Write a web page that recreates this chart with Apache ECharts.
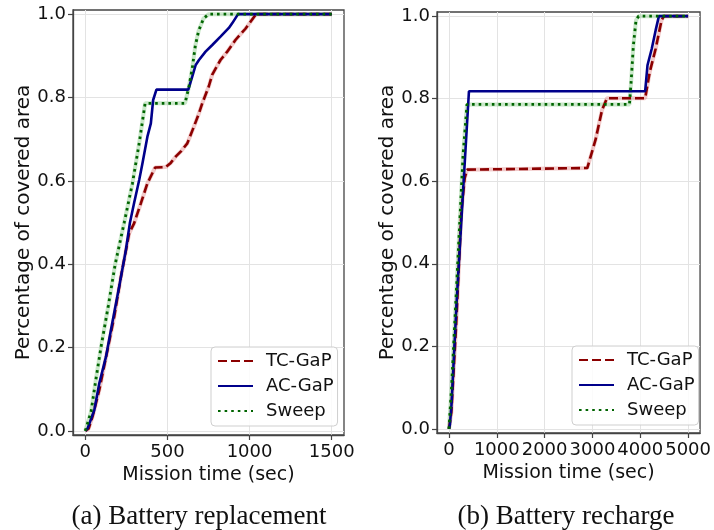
<!DOCTYPE html>
<html>
<head>
<meta charset="utf-8">
<script src="https://cdn.jsdelivr.net/npm/echarts@6/dist/echarts.min.js"></script>
<style>
html,body{margin:0;padding:0;background:#fff;}
#chart{width:714px;height:530px;}
</style>
</head>
<body>
<div id="chart"></div>
<script>
// ---- Data: (a) Battery replacement ----
const repTcTime = [0,20,44,85,135,176,217,267,297,338,378,425,490,520,550,585,621,661,692,712,752,773,823,864,914,975,1040,1500];
const repTcCov  = [0,0.005,0.034,0.098,0.194,0.274,0.370,0.474,0.498,0.546,0.594,0.632,0.633,0.643,0.658,0.672,0.690,0.730,0.762,0.786,0.827,0.855,0.890,0.910,0.938,0.965,1.0,1.0];
const repAcTime = [0,14,55,85,126,156,206,247,271,297,328,348,378,399,413,433,627,651,672,692,732,773,823,874,894,930,1500];
const repAcCov  = [0,0.006,0.05,0.114,0.178,0.242,0.346,0.434,0.498,0.547,0.602,0.642,0.706,0.738,0.794,0.819,0.819,0.850,0.878,0.890,0.910,0.926,0.946,0.967,0.978,1.0,1.0];
const repSwTime = [0,35,65,95,140,182,237,287,328,364,607,631,651,670,690,720,752,1500];
const repSwCov  = [0,0.046,0.125,0.200,0.300,0.400,0.500,0.594,0.690,0.786,0.786,0.826,0.870,0.925,0.960,0.990,1.0,1.0];

// ---- Data: (b) Battery recharge ----
const recTcTime = [0,50,150,260,330,380,418,2892,3064,3200,3303,4102,4199,4322,4445,4492,5000];
const recTcCov  = [0,0.04,0.25,0.527,0.608,0.628,0.632,0.632,0.700,0.772,0.801,0.801,0.865,0.921,0.990,1.0,1.0];
const recAcTime = [0,20,55,158,295,418,4102,4151,4240,4322,4390,5000];
const recAcCov  = [0,0.01,0.061,0.302,0.576,0.818,0.818,0.881,0.921,0.966,1.0,1.0];
const recSwTime = [0,55,158,295,377,3774,3809,3856,3911,3967,5000];
const recSwCov  = [0,0.102,0.342,0.664,0.786,0.786,0.841,0.929,0.990,1.0,1.0];

// ---- Ticks ----
const repXTicks = [0,500,1000,1500];
const recXTicks = [0,1000,2000,3000,4000,5000];
const yTicks = [0,0.2,0.4,0.6,0.8,1.0];

const seriesNames = ['TC-GaP','AC-GaP','Sweep'];
const captions = ['(a) Battery replacement','(b) Battery recharge'];
const xTitle = 'Mission time (sec)';
const yTitle = 'Percentage of covered area';

function pairs(t, v){ return t.map((x,i)=>[x, v[i]]); }

const FONT = 'DejaVu Sans';
const spine = '#444';
const gridC = '#e3e3e3';

function xAxis(gi, min, max, ticks){
  return {
    type:'value', gridIndex:gi, min:min, max:max,
    name:xTitle, nameLocation:'middle', nameGap:28,
    nameTextStyle:{fontFamily:FONT,fontSize:19,color:'#111'},
    axisLine:{show:true,onZero:false,lineStyle:{color:spine,width:1.3}},
    axisTick:{show:true,length:5,inside:false,customValues:ticks,lineStyle:{color:spine,width:1.2}},
    axisLabel:{customValues:ticks,margin:8,fontFamily:FONT,fontSize:18,color:'#111',formatter:v=>String(v)},
    splitLine:{show:true,lineStyle:{color:gridC,width:1}}
  };
}
function yAxis(gi){
  return {
    type:'value', gridIndex:gi, min:-0.01, max:1.01,
    name:yTitle, nameLocation:'middle', nameGap:39.5,
    nameTextStyle:{fontFamily:FONT,fontSize:20,color:'#111'},
    axisLine:{show:true,onZero:false,lineStyle:{color:spine,width:1.3}},
    axisTick:{show:true,length:5,customValues:yTicks,lineStyle:{color:spine,width:1.2}},
    axisLabel:{customValues:yTicks,margin:7,fontFamily:FONT,fontSize:18,color:'#111',formatter:v=>v.toFixed(1)},
    splitLine:{show:true,lineStyle:{color:gridC,width:1}}
  };
}

const styles = {
  'TC-GaP': {color:'#8b0000', type:[9,4], width:2.6, halo:'rgba(230,150,150,0.5)'},
  'AC-GaP': {color:'#00008b', type:'solid', width:2.6, halo:null},
  'Sweep':  {color:'#006400', type:[2.6,4], width:2.8, halo:'rgba(150,210,150,0.5)'}
};

function makeSeries(gi, name, t, v){
  const s = styles[name];
  const out = [];
  if (s.halo){
    out.push({
      type:'line', name:name+' band', xAxisIndex:gi, yAxisIndex:gi,
      data:pairs(t,v), showSymbol:false, symbol:'none', silent:true,
      lineStyle:{color:s.halo,width:4}, z:1, animation:false
    });
  }
  out.push({
    type:'line', name:name, xAxisIndex:gi, yAxisIndex:gi,
    data:pairs(t,v), showSymbol:false, symbol:'none',
    itemStyle:{color:s.color},
    lineStyle:{color:s.color,type:s.type,width:s.width}, z:3, animation:false
  });
  return out;
}

const series = [].concat(
  makeSeries(0,'TC-GaP',repTcTime,repTcCov),
  makeSeries(0,'AC-GaP',repAcTime,repAcCov),
  makeSeries(0,'Sweep',repSwTime,repSwCov),
  makeSeries(1,'TC-GaP',recTcTime,recTcCov),
  makeSeries(1,'AC-GaP',recAcTime,recAcCov),
  makeSeries(1,'Sweep',recSwTime,recSwCov)
);

function legend(left, top){
  return {
    data:seriesNames, left:left, top:top, orient:'vertical',
    itemWidth:35, itemHeight:14, itemGap:7,
    itemStyle:{opacity:0},
    textStyle:{fontFamily:FONT,fontSize:18,lineHeight:18,color:'#111',padding:[0,0,0,8]},
    borderColor:'#cfcfcf', borderWidth:1, borderRadius:4,
    padding:[5,4,6,6], backgroundColor:'rgba(255,255,255,0.85)',
    selectedMode:false
  };
}

const option = {
  backgroundColor:'#fff',
  animation:false,
  grid:[
    {left:73, top:10, width:271, height:425, show:true, borderColor:spine, borderWidth:1.3, backgroundColor:'transparent'},
    {left:437, top:12, width:268, height:421, show:true, borderColor:spine, borderWidth:1.3, backgroundColor:'transparent'}
  ],
  xAxis:[xAxis(0,-75,1575,repXTicks), xAxis(1,-250,5250,recXTicks)],
  yAxis:[yAxis(0), yAxis(1)],
  legend:[legend(211,347), legend(572,346)],
  series:series,
  graphic:[
    {type:'text', style:{text:captions[0], fontFamily:'Liberation Serif', fontSize:27, fill:'#111', x:199, y:517, align:'center', verticalAlign:'middle'}},
    {type:'text', style:{text:captions[1], fontFamily:'Liberation Serif', fontSize:27, fill:'#111', x:566, y:517, align:'center', verticalAlign:'middle'}}
  ]
};

const chart = echarts.init(document.getElementById('chart'), null, {renderer:'canvas'});
chart.setOption(option);
</script>
</body>
</html>
